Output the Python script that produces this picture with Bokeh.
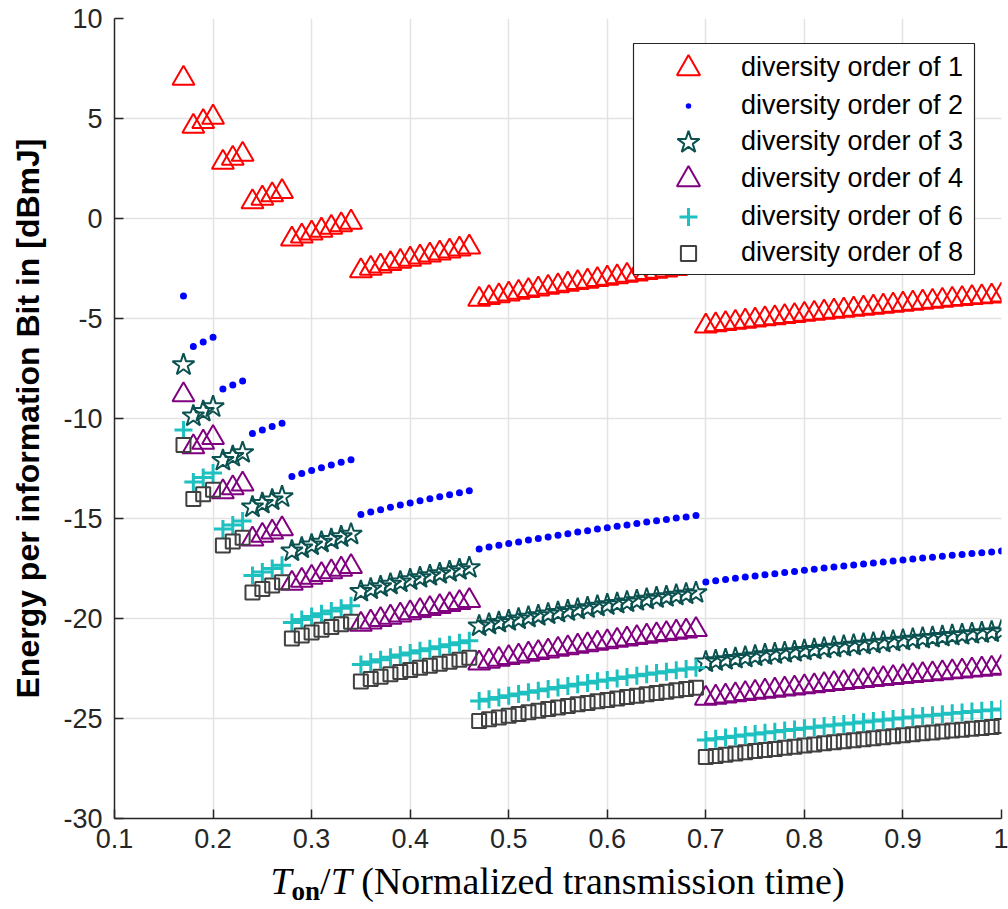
from bokeh.plotting import figure
from bokeh.models import (Range1d, FixedTicker, Legend, LegendItem,
                          ColumnDataSource, BoxAnnotation, Div)
from bokeh.layouts import column
from bokeh.embed import file_html
from bokeh.resources import INLINE

# ---------------- data ----------------
x_on = [0.17, 0.18, 0.19, 0.20, 0.21, 0.22, 0.23, 0.24, 0.25, 0.26, 0.27,
        0.28, 0.29, 0.30, 0.31, 0.32, 0.33, 0.34, 0.35, 0.36, 0.37, 0.38,
        0.39, 0.40, 0.41, 0.42, 0.43, 0.44, 0.45, 0.46, 0.47, 0.48, 0.49,
        0.50, 0.51, 0.52, 0.53, 0.54, 0.55, 0.56, 0.57, 0.58, 0.59, 0.60,
        0.61, 0.62, 0.63, 0.64, 0.65, 0.66, 0.67, 0.68, 0.69, 0.70, 0.71,
        0.72, 0.73, 0.74, 0.75, 0.76, 0.77, 0.78, 0.79, 0.80, 0.81, 0.82,
        0.83, 0.84, 0.85, 0.86, 0.87, 0.88, 0.89, 0.90, 0.91, 0.92, 0.93,
        0.94, 0.95, 0.96, 0.97, 0.98, 0.99, 1.00]

div1 = [7.00,
        4.60, 4.84, 5.06,
        2.80, 3.00, 3.20,
        0.83, 1.01, 1.18, 1.34,
        -1.03, -0.88, -0.73, -0.59, -0.45, -0.32, -0.19,
        -2.62, -2.50, -2.38, -2.26, -2.15, -2.04, -1.93, -1.83, -1.73, -1.63, -1.53, -1.43,
        -4.05, -3.96, -3.87, -3.78, -3.70, -3.61, -3.53, -3.45, -3.37, -3.29, -3.21, -3.14,
        -3.06, -2.99, -2.92, -2.85, -2.78, -2.71, -2.64, -2.58, -2.51, -2.45, -2.38,
        -5.38, -5.32, -5.26, -5.20, -5.14, -5.08, -5.02, -4.97, -4.91, -4.86, -4.80, -4.75,
        -4.69, -4.64, -4.59, -4.54, -4.49, -4.44, -4.39, -4.34, -4.29, -4.24, -4.19, -4.15,
        -4.10, -4.05, -4.01, -3.96, -3.92, -3.88, -3.83]

div2 = [-3.87,
        -6.40, -6.17, -5.94,
        -8.52, -8.32, -8.13,
        -10.75, -10.57, -10.40, -10.24,
        -12.90, -12.75, -12.60, -12.46, -12.32, -12.19, -12.06,
        -14.80, -14.68, -14.56, -14.44, -14.33, -14.22, -14.11, -14.01, -13.91, -13.81, -13.71, -13.61,
        -16.52, -16.43, -16.34, -16.25, -16.17, -16.08, -16.00, -15.92, -15.84, -15.76, -15.68, -15.61,
        -15.53, -15.46, -15.39, -15.32, -15.25, -15.18, -15.11, -15.05, -14.98, -14.92, -14.85,
        -18.17, -18.11, -18.05, -17.99, -17.93, -17.87, -17.81, -17.76, -17.70, -17.65, -17.59, -17.54,
        -17.48, -17.43, -17.38, -17.33, -17.28, -17.23, -17.18, -17.13, -17.08, -17.03, -16.98, -16.94,
        -16.89, -16.84, -16.80, -16.75, -16.71, -16.67, -16.62]

div3 = [-7.32,
        -9.88, -9.65, -9.42,
        -12.10, -11.90, -11.71,
        -14.43, -14.25, -14.08, -13.92,
        -16.63, -16.48, -16.33, -16.19, -16.05, -15.92, -15.79,
        -18.65, -18.53, -18.41, -18.29, -18.18, -18.07, -17.96, -17.86, -17.76, -17.66, -17.56, -17.46,
        -20.38, -20.29, -20.20, -20.11, -20.03, -19.94, -19.86, -19.78, -19.70, -19.62, -19.54, -19.47,
        -19.39, -19.32, -19.25, -19.18, -19.11, -19.04, -18.97, -18.91, -18.84, -18.78, -18.71,
        -22.18, -22.12, -22.06, -22.00, -21.94, -21.88, -21.82, -21.77, -21.71, -21.66, -21.60, -21.55,
        -21.49, -21.44, -21.39, -21.34, -21.29, -21.24, -21.19, -21.14, -21.09, -21.04, -20.99, -20.95,
        -20.90, -20.85, -20.81, -20.76, -20.72, -20.68, -20.63]

div4 = [-8.82,
        -11.42, -11.19, -10.96,
        -13.67, -13.47, -13.28,
        -16.03, -15.85, -15.68, -15.52,
        -18.25, -18.10, -17.95, -17.81, -17.67, -17.54, -17.41,
        -20.30, -20.18, -20.06, -19.94, -19.83, -19.72, -19.61, -19.51, -19.41, -19.31, -19.21, -19.11,
        -22.23, -22.14, -22.05, -21.96, -21.88, -21.79, -21.71, -21.63, -21.55, -21.47, -21.39, -21.32,
        -21.24, -21.17, -21.10, -21.03, -20.96, -20.89, -20.82, -20.76, -20.69, -20.63, -20.56,
        -24.00, -23.94, -23.88, -23.82, -23.76, -23.70, -23.64, -23.59, -23.53, -23.48, -23.42, -23.37,
        -23.31, -23.26, -23.21, -23.16, -23.11, -23.06, -23.01, -22.96, -22.91, -22.86, -22.81, -22.77,
        -22.72, -22.67, -22.63, -22.58, -22.54, -22.50, -22.45]

div6 = [-10.57,
        -13.18, -12.95, -12.72,
        -15.52, -15.32, -15.13,
        -17.85, -17.67, -17.50, -17.34,
        -20.20, -20.05, -19.90, -19.76, -19.62, -19.49, -19.36,
        -22.30, -22.18, -22.06, -21.94, -21.83, -21.72, -21.61, -21.51, -21.41, -21.31, -21.21, -21.11,
        -24.13, -24.04, -23.95, -23.86, -23.78, -23.69, -23.61, -23.53, -23.45, -23.37, -23.29, -23.22,
        -23.14, -23.07, -23.00, -22.93, -22.86, -22.79, -22.72, -22.66, -22.59, -22.53, -22.46,
        -26.07, -26.01, -25.95, -25.89, -25.83, -25.77, -25.71, -25.66, -25.60, -25.55, -25.49, -25.44,
        -25.38, -25.33, -25.28, -25.23, -25.18, -25.13, -25.08, -25.03, -24.98, -24.93, -24.88, -24.84,
        -24.79, -24.74, -24.70, -24.65, -24.61, -24.57, -24.52]

div8 = [-11.32,
        -14.02, -13.79, -13.56,
        -16.35, -16.15, -15.96,
        -18.70, -18.52, -18.35, -18.19,
        -21.00, -20.85, -20.70, -20.56, -20.42, -20.29, -20.16,
        -23.15, -23.03, -22.91, -22.79, -22.68, -22.57, -22.46, -22.36, -22.26, -22.16, -22.06, -21.96,
        -25.13, -25.04, -24.95, -24.86, -24.78, -24.69, -24.61, -24.53, -24.45, -24.37, -24.29, -24.22,
        -24.14, -24.07, -24.00, -23.93, -23.86, -23.79, -23.72, -23.66, -23.59, -23.53, -23.46,
        -26.93, -26.87, -26.81, -26.75, -26.69, -26.63, -26.57, -26.52, -26.46, -26.41, -26.35, -26.30,
        -26.24, -26.19, -26.14, -26.09, -26.04, -25.99, -25.94, -25.89, -25.84, -25.79, -25.74, -25.70,
        -25.65, -25.60, -25.56, -25.51, -25.47, -25.43, -25.38]

series_labels = ["diversity order of 1", "diversity order of 2", "diversity order of 3",
                 "diversity order of 4", "diversity order of 6", "diversity order of 8"]

x_ticks = [0.1, 0.2, 0.3, 0.4, 0.5, 0.6, 0.7, 0.8, 0.9, 1.0]
x_tick_labels = ["0.1", "0.2", "0.3", "0.4", "0.5", "0.6", "0.7", "0.8", "0.9", "1"]
y_ticks = [-30, -25, -20, -15, -10, -5, 0, 5, 10]
y_tick_labels = ["-30", "-25", "-20", "-15", "-10", "-5", "0", "5", "10"]

y_title = "Energy per information Bit in [dBmJ]"
x_title_html = ('<i>T</i><span style="font-weight:bold;font-size:27px;'
                'position:relative;top:6px">on</span>/<i>T</i>'
                ' (Normalized transmission time)')

# ---------------- styles / layout ----------------
AX = "#262626"
SANS = "Liberation Sans"
SERIF = "Liberation Serif"

# marker, colour, plot size, line width, legend marker size
styles = [
    dict(marker="triangle", color="#FF0000", size=22, lw=2.0, leg=23),
    dict(marker="dot", color="#0000FF", size=28, lw=1.0, leg=22),
    dict(marker="star", color="#0A5150", size=23, lw=2.0, leg=23),
    dict(marker="triangle", color="#800080", size=22, lw=2.0, leg=23),
    dict(marker="cross", color="#1EC0C0", size=18, lw=3.0, leg=18),
    dict(marker="square", color="#404040", size=14, lw=2.0, leg=15),
]
series_values = [div1, div2, div3, div4, div6, div8]

FRAME_W, FRAME_H = 887, 800
BORDER_L, BORDER_R, BORDER_T, BORDER_B = 114, 7, 18, 44

p = figure(width=BORDER_L + FRAME_W + BORDER_R,
           height=BORDER_T + FRAME_H + BORDER_B,
           x_range=Range1d(0.1, 1.0), y_range=Range1d(-30, 10),
           output_backend="svg", toolbar_location=None, title=None,
           min_border_left=BORDER_L, min_border_right=BORDER_R,
           min_border_top=BORDER_T, min_border_bottom=BORDER_B)
p.background_fill_color = "white"
p.border_fill_color = "white"
p.outline_line_color = None

# axes
p.xaxis.ticker = FixedTicker(ticks=x_ticks)
p.yaxis.ticker = FixedTicker(ticks=y_ticks)
p.xaxis.major_label_overrides = dict(zip(x_ticks, x_tick_labels))
p.yaxis.major_label_overrides = dict(zip(y_ticks, y_tick_labels))
for ax in (p.xaxis, p.yaxis):
    ax.axis_line_color = AX
    ax.axis_line_width = 1.5
    ax.major_tick_line_color = AX
    ax.major_tick_line_width = 1.5
    ax.major_tick_in = 9
    ax.major_tick_out = 0
    ax.minor_tick_line_color = None
    ax.major_label_text_font = SANS
    ax.major_label_text_font_size = "27px"
    ax.major_label_text_color = AX
p.xaxis.major_label_standoff = 10
p.yaxis.major_label_standoff = 12

p.yaxis.axis_label = y_title
p.yaxis.axis_label_text_font = SANS
p.yaxis.axis_label_text_font_style = "bold"
p.yaxis.axis_label_text_font_size = "32px"
p.yaxis.axis_label_text_color = "black"
p.yaxis.axis_label_standoff = 14

p.xgrid.ticker = p.xaxis.ticker
p.ygrid.ticker = p.yaxis.ticker
for g in (p.xgrid, p.ygrid):
    g.grid_line_color = "#E3E3E3"
    g.grid_line_width = 1.5

# series
renderers = []
for vals, st in zip(series_values, styles):
    src = ColumnDataSource(dict(x=x_on, y=vals))
    fill = st["color"] if st["marker"] == "dot" else None
    r = p.scatter("x", "y", source=src, marker=st["marker"], size=st["size"],
                  line_color=st["color"], line_width=st["lw"], fill_color=fill)
    renderers.append(r)

# legend frame (white box with dark border), in frame pixel offsets
LEG_LEFT, LEG_RIGHT, LEG_TOP, LEG_BOTTOM = 519, 860, 25, 256   # px from frame left / top
xs = (1.0 - 0.1) / FRAME_W
ys = (10 - (-30)) / FRAME_H
p.add_layout(BoxAnnotation(left=0.1 + LEG_LEFT * xs, right=0.1 + LEG_RIGHT * xs,
                           top=10 - LEG_TOP * ys, bottom=10 - LEG_BOTTOM * ys,
                           fill_color="white", fill_alpha=1.0,
                           line_color=AX, line_width=1.2, line_alpha=1.0))

# one single-item legend per row so each legend marker keeps its own size
ROW_CENTERS = [50, 87, 124, 161, 198, 235]    # px from frame top
GLYPH_W = 106
for lab, r, st, rc in zip(series_labels, renderers, styles, ROW_CENTERS):
    gh = st["leg"] / 0.4
    leg = Legend(items=[LegendItem(label=lab, renderers=[r])],
                 location=(LEG_LEFT + 2, FRAME_H - rc - gh / 2),
                 glyph_width=GLYPH_W, glyph_height=int(round(gh)),
                 padding=0, spacing=0, label_standoff=0, margin=0,
                 label_text_font=SANS, label_text_font_size="27px",
                 label_text_color="black",
                 border_line_color=None, background_fill_alpha=0.0)
    p.add_layout(leg, "center")

# x-axis title as HTML text below the figure
xlabel = Div(text=('<div style="width:%dpx;margin-left:%dpx;text-align:center;'
                   'font-family:\'%s\';font-size:38px;line-height:38px;'
                   'color:black;white-space:nowrap">%s</div>')
                  % (FRAME_W, BORDER_L, SERIF, x_title_html),
             width=BORDER_L + FRAME_W + BORDER_R, height=44, margin=(0, 0, 0, 0))

layout = column(p, xlabel, spacing=0)
open("out.html", "w").write(file_html(layout, INLINE))
